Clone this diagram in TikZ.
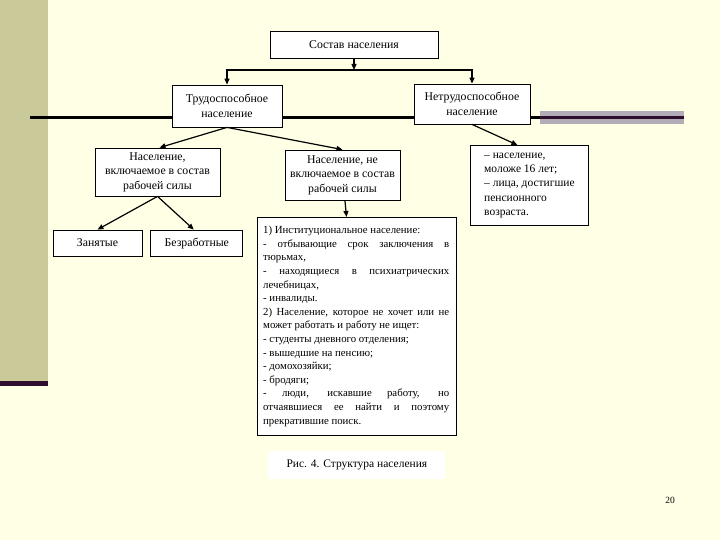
\documentclass[tikz,border=0pt]{standalone}
\usepackage{fontspec}
\setmainfont{Liberation Serif}
\usetikzlibrary{arrows.meta}
\usetikzlibrary{positioning}
\usepackage{xcolor}
\definecolor{slidecream}{HTML}{FFFFE6}
\definecolor{slideolive}{HTML}{C9C99A}
\definecolor{slideplum}{HTML}{2E0E2C}
\definecolor{slidegrey}{HTML}{B2ABB8}

\begin{document}
\begin{tikzpicture}[
        x=1pt, y=-1pt,
        box/.style={rectangle, draw=black, fill=white, line width=0.8pt,
          inner sep=2pt, align=center,
          font=\fontsize{11.8}{14.5}\selectfont},
        listbox/.style={rectangle, draw=black, fill=white, line width=0.8pt,
          inner sep=5pt, align=left,
          font=\fontsize{11.5}{14.3}\selectfont},
        arrow/.style={-{Triangle[length=6pt, width=5pt]}, line width=1.2pt, draw=black},
        caption/.style={rectangle, fill=white, inner sep=4pt,
          font=\fontsize{11.5}{13}\selectfont},
      ]

      % Slide background
      \useasboundingbox (0,0) rectangle (720,540);
      \fill[slidecream] (0,0) rectangle (720,540);
      \fill[slideolive] (0,0) rectangle (48,381);
      \fill[slideplum] (0,381) rectangle (48,386);
      \fill[slidegrey] (540,111) rectangle (684,124);
      \draw[line width=2.2pt, draw=black] (30,117.5) -- (540,117.5);
      \draw[line width=2.2pt, draw=slideplum] (540,117.5) -- (684,117.5);

      % Top level
      \node[box, minimum width=168pt, minimum height=27pt] (sostav) at (354,44.5)
        {Состав населения};
      \coordinate (split) at (354,70);

      % Second level
      \node[box, minimum width=110pt, minimum height=42pt] (trud) at (227,106)
        {Трудоспособное\\население};
      \node[box, minimum width=116pt, minimum height=40pt] (netrud) at (472,104)
        {Нетрудоспособное\\население};

      % Third level
      \node[box, minimum width=125pt, minimum height=48pt] (vkl) at (157.5,172)
        {Население,\\включаемое в состав\\рабочей силы};
      \node[box, minimum width=115pt, minimum height=50pt] (nevkl) at (342.5,175)
        {Население, не\\включаемое в состав\\рабочей силы};
      \node[listbox, minimum width=118pt, minimum height=80pt, anchor=north west]
        (molod) at (470,145)
        {– население,\\моложе 16 лет;\\– лица, достигшие\\пенсионного\\возраста.};

      % Fourth level
      \node[box, minimum width=89pt, minimum height=26pt, text height=8.5pt, text depth=2.5pt]
        (zanyat) at (97.5,243) {Занятые};
      \node[box, minimum width=92pt, minimum height=26pt, text height=8.5pt, text depth=2.5pt,
        right=8pt of zanyat] (bezrab) {Безработные};

      % Not in labour force: the list
      \node[rectangle, draw=black, fill=white, line width=0.8pt, anchor=north west,
        minimum width=199pt, minimum height=218pt, inner sep=0pt] (inst) at (257,217) {};
      \node[anchor=north west, text width=186pt, align=justify, inner sep=0pt,
        font=\fontsize{10.8}{13.6}\selectfont] (insttext) at ([xshift=6pt, yshift=-9pt]inst.north west)
        {1) Институциональное население:\par
         - отбывающие срок заключения в\linebreak тюрьмах,\par
         - находящиеся в психиатрических\linebreak лечебницах,\par
         - инвалиды.\par
         2) Население, которое не хочет или не\linebreak может работать и работу не ищет:\par
         - студенты дневного отделения;\par
         - вышедшие на пенсию;\par
         - домохозяйки;\par
         - бродяги;\par
         - люди, искавшие работу, но\linebreak отчаявшиеся ее найти и поэтому\linebreak прекратившие поиск.\par};

      % Caption and page number
      \node[caption, minimum width=177pt, minimum height=28pt, below=15pt of inst]
        (fig) {Рис. 4. Структура населения};
      \node[font=\fontsize{9.5}{10}\selectfont] (pagenum) at (670,500) {20};

      % Arrows
      \draw[arrow] (sostav) -- (split);
      \draw[arrow] (split) -| (trud.north);
      \draw[arrow] (split) -| (netrud.north);
      \draw[arrow] (trud.south) -- ([xshift=2pt]vkl.north);
      \draw[arrow] (trud.south) -- (nevkl.north);
      \draw[arrow] (netrud.south) -- ([xshift=-12pt]molod.north);
      \draw[arrow] (vkl.south) -- (zanyat.north);
      \draw[arrow] (vkl.south) -- ([xshift=-3pt]bezrab.north);
      \draw[arrow] (nevkl) -- (inst);

      \end{tikzpicture}
\end{document}
